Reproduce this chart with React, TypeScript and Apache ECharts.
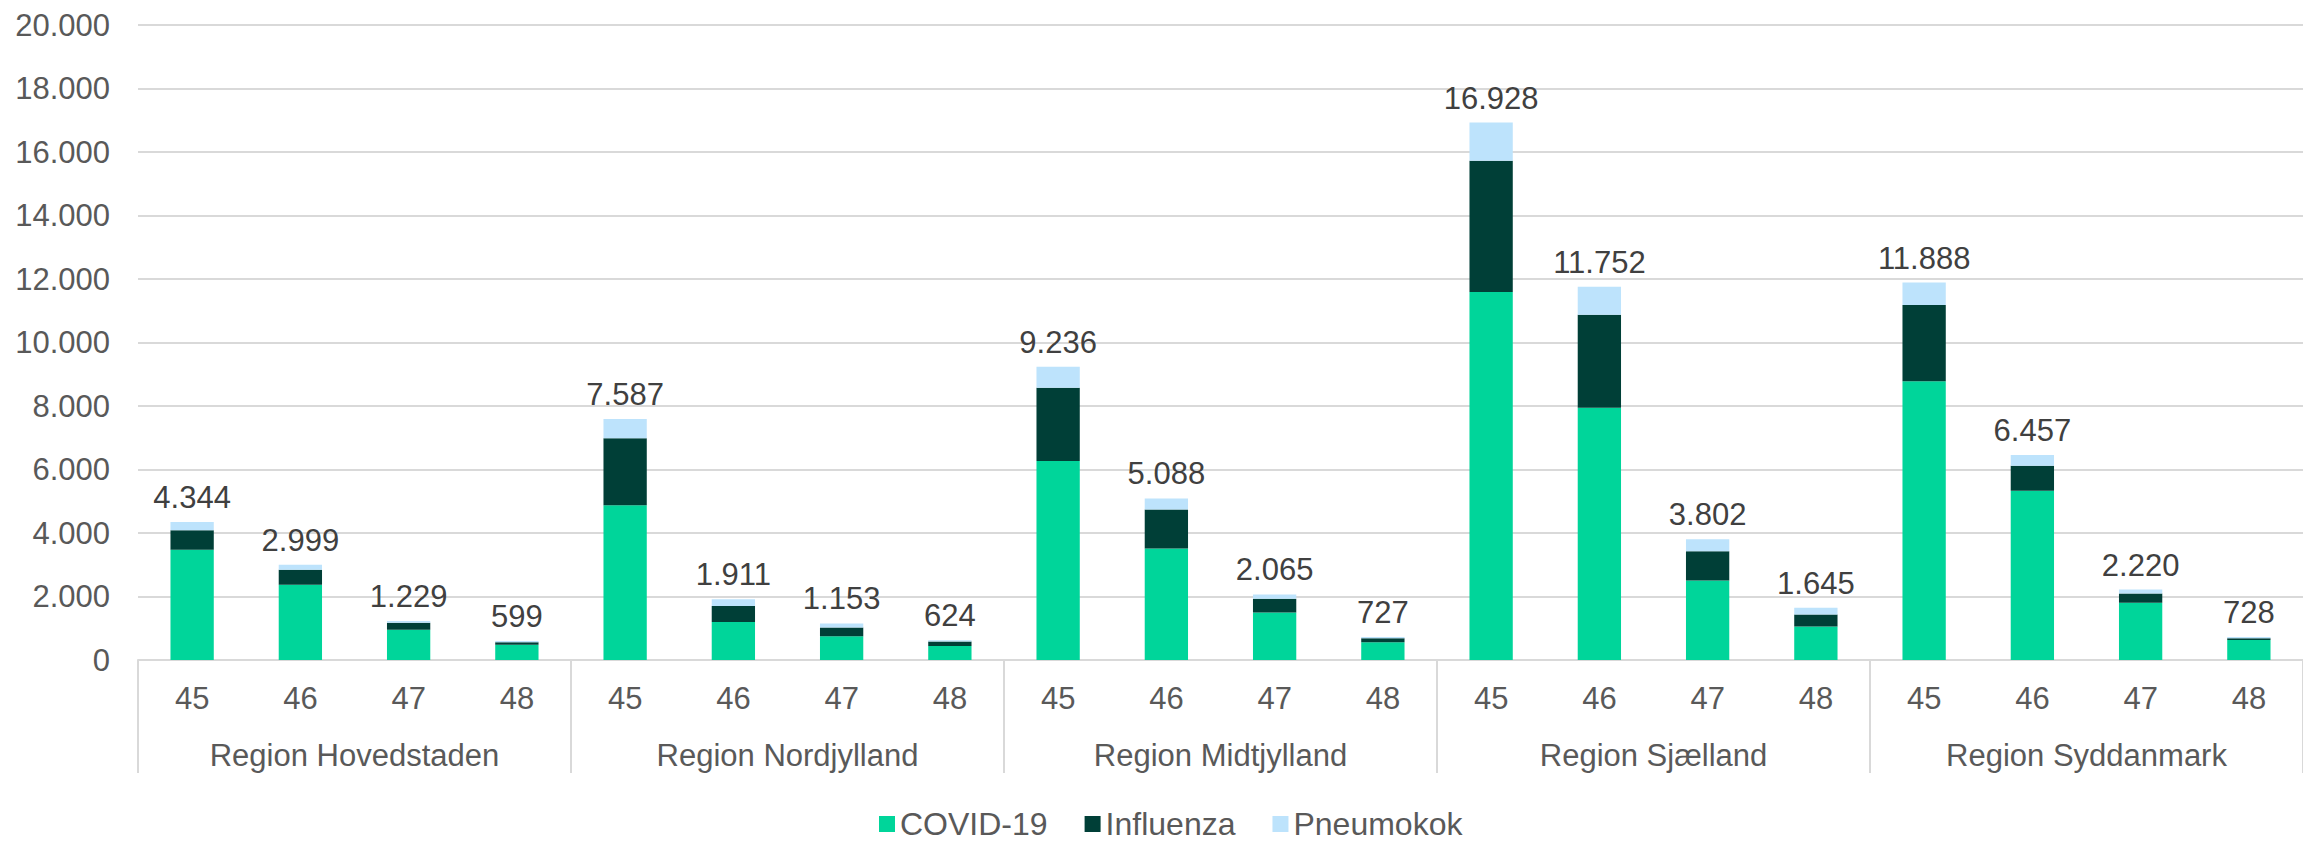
import React, { useEffect, useRef } from "react";
import * as echarts from "echarts";

const regions = ["Region Hovedstaden", "Region Nordjylland", "Region Midtjylland", "Region Sjælland", "Region Syddanmark"];
const weeks = ["45", "46", "47", "48"];
const categories = regions.flatMap(() => weeks);

const covid = [3476, 2369, 954, 477, 4873, 1193, 750, 443, 6271, 3510, 1500, 562, 11587, 7941, 2505, 1056, 8776, 5334, 1806, 630];
const influenza = [614, 477, 222, 85, 2113, 511, 272, 136, 2300, 1227, 426, 120, 4141, 2931, 920, 375, 2402, 783, 290, 52];
const pneumokok = [254, 153, 53, 37, 601, 207, 131, 45, 665, 351, 139, 45, 1200, 880, 377, 214, 710, 340, 124, 46];
const totals = [4344, 2999, 1229, 599, 7587, 1911, 1153, 624, 9236, 5088, 2065, 727, 16928, 11752, 3802, 1645, 11888, 6457, 2220, 728];

const fmt = (v: number) => String(Math.round(v)).replace(/\B(?=(\d{3})+(?!\d))/g, ".");

const FONT = "'Liberation Sans', Arial, sans-serif";

export default function App() {
  const ref = useRef<HTMLDivElement>(null);
  useEffect(() => {
    document.body.style.margin = "0";
    const chart = echarts.init(ref.current!, null, { renderer: "svg" });
    chart.setOption({
      animation: false,
      grid: { left: 138, right: 0, top: 25, bottom: 187, containLabel: false },
      legend: {
        left: 879,
        top: 808,
        padding: 0,
        itemWidth: 16,
        itemHeight: 16,
        itemGap: 37,
        icon: "rect",
        textStyle: { fontFamily: FONT, fontSize: 32, lineHeight: 32, color: "#595959" },
        data: ["COVID-19", "Influenza", "Pneumokok"],
      },
      xAxis: [
        {
          type: "category",
          data: categories,
          position: "bottom",
          axisLine: { show: true, lineStyle: { color: "#D9D9D9", width: 2 } },
          axisTick: { show: false },
          axisLabel: { fontFamily: FONT, fontSize: 31, color: "#595959", margin: 23, interval: 0 },
        },
        {
          type: "category",
          data: regions,
          position: "bottom",
          axisLine: { show: false },
          axisTick: { show: true, length: 113, lineStyle: { color: "#D9D9D9", width: 2 } },
          axisLabel: { fontFamily: FONT, fontSize: 31, color: "#595959", margin: 80, interval: 0 },
        },
      ],
      yAxis: {
        type: "value",
        min: 0,
        max: 20000,
        interval: 2000,
        axisLine: { show: false },
        axisTick: { show: false },
        splitLine: { lineStyle: { color: "#D9D9D9", width: 2 } },
        axisLabel: { fontFamily: FONT, fontSize: 31, color: "#595959", margin: 28, formatter: (v: number) => fmt(v) },
      },
      series: [
        { name: "COVID-19", type: "bar", stack: "a", data: covid, barWidth: "40%", itemStyle: { color: "#00D59A" } },
        { name: "Influenza", type: "bar", stack: "a", data: influenza, barWidth: "40%", itemStyle: { color: "#003F37" } },
        {
          name: "Pneumokok",
          type: "bar",
          stack: "a",
          data: pneumokok,
          barWidth: "40%",
          itemStyle: { color: "#BDE3FC" },
          label: {
            show: true,
            position: "top",
            distance: 9,
            fontFamily: FONT,
            fontSize: 31,
            color: "#404040",
            formatter: (p: any) => fmt(totals[p.dataIndex]),
          },
        },
      ],
    });
    return () => chart.dispose();
  }, []);
  return <div ref={ref} style={{ width: 2303, height: 847 }} />;
}
